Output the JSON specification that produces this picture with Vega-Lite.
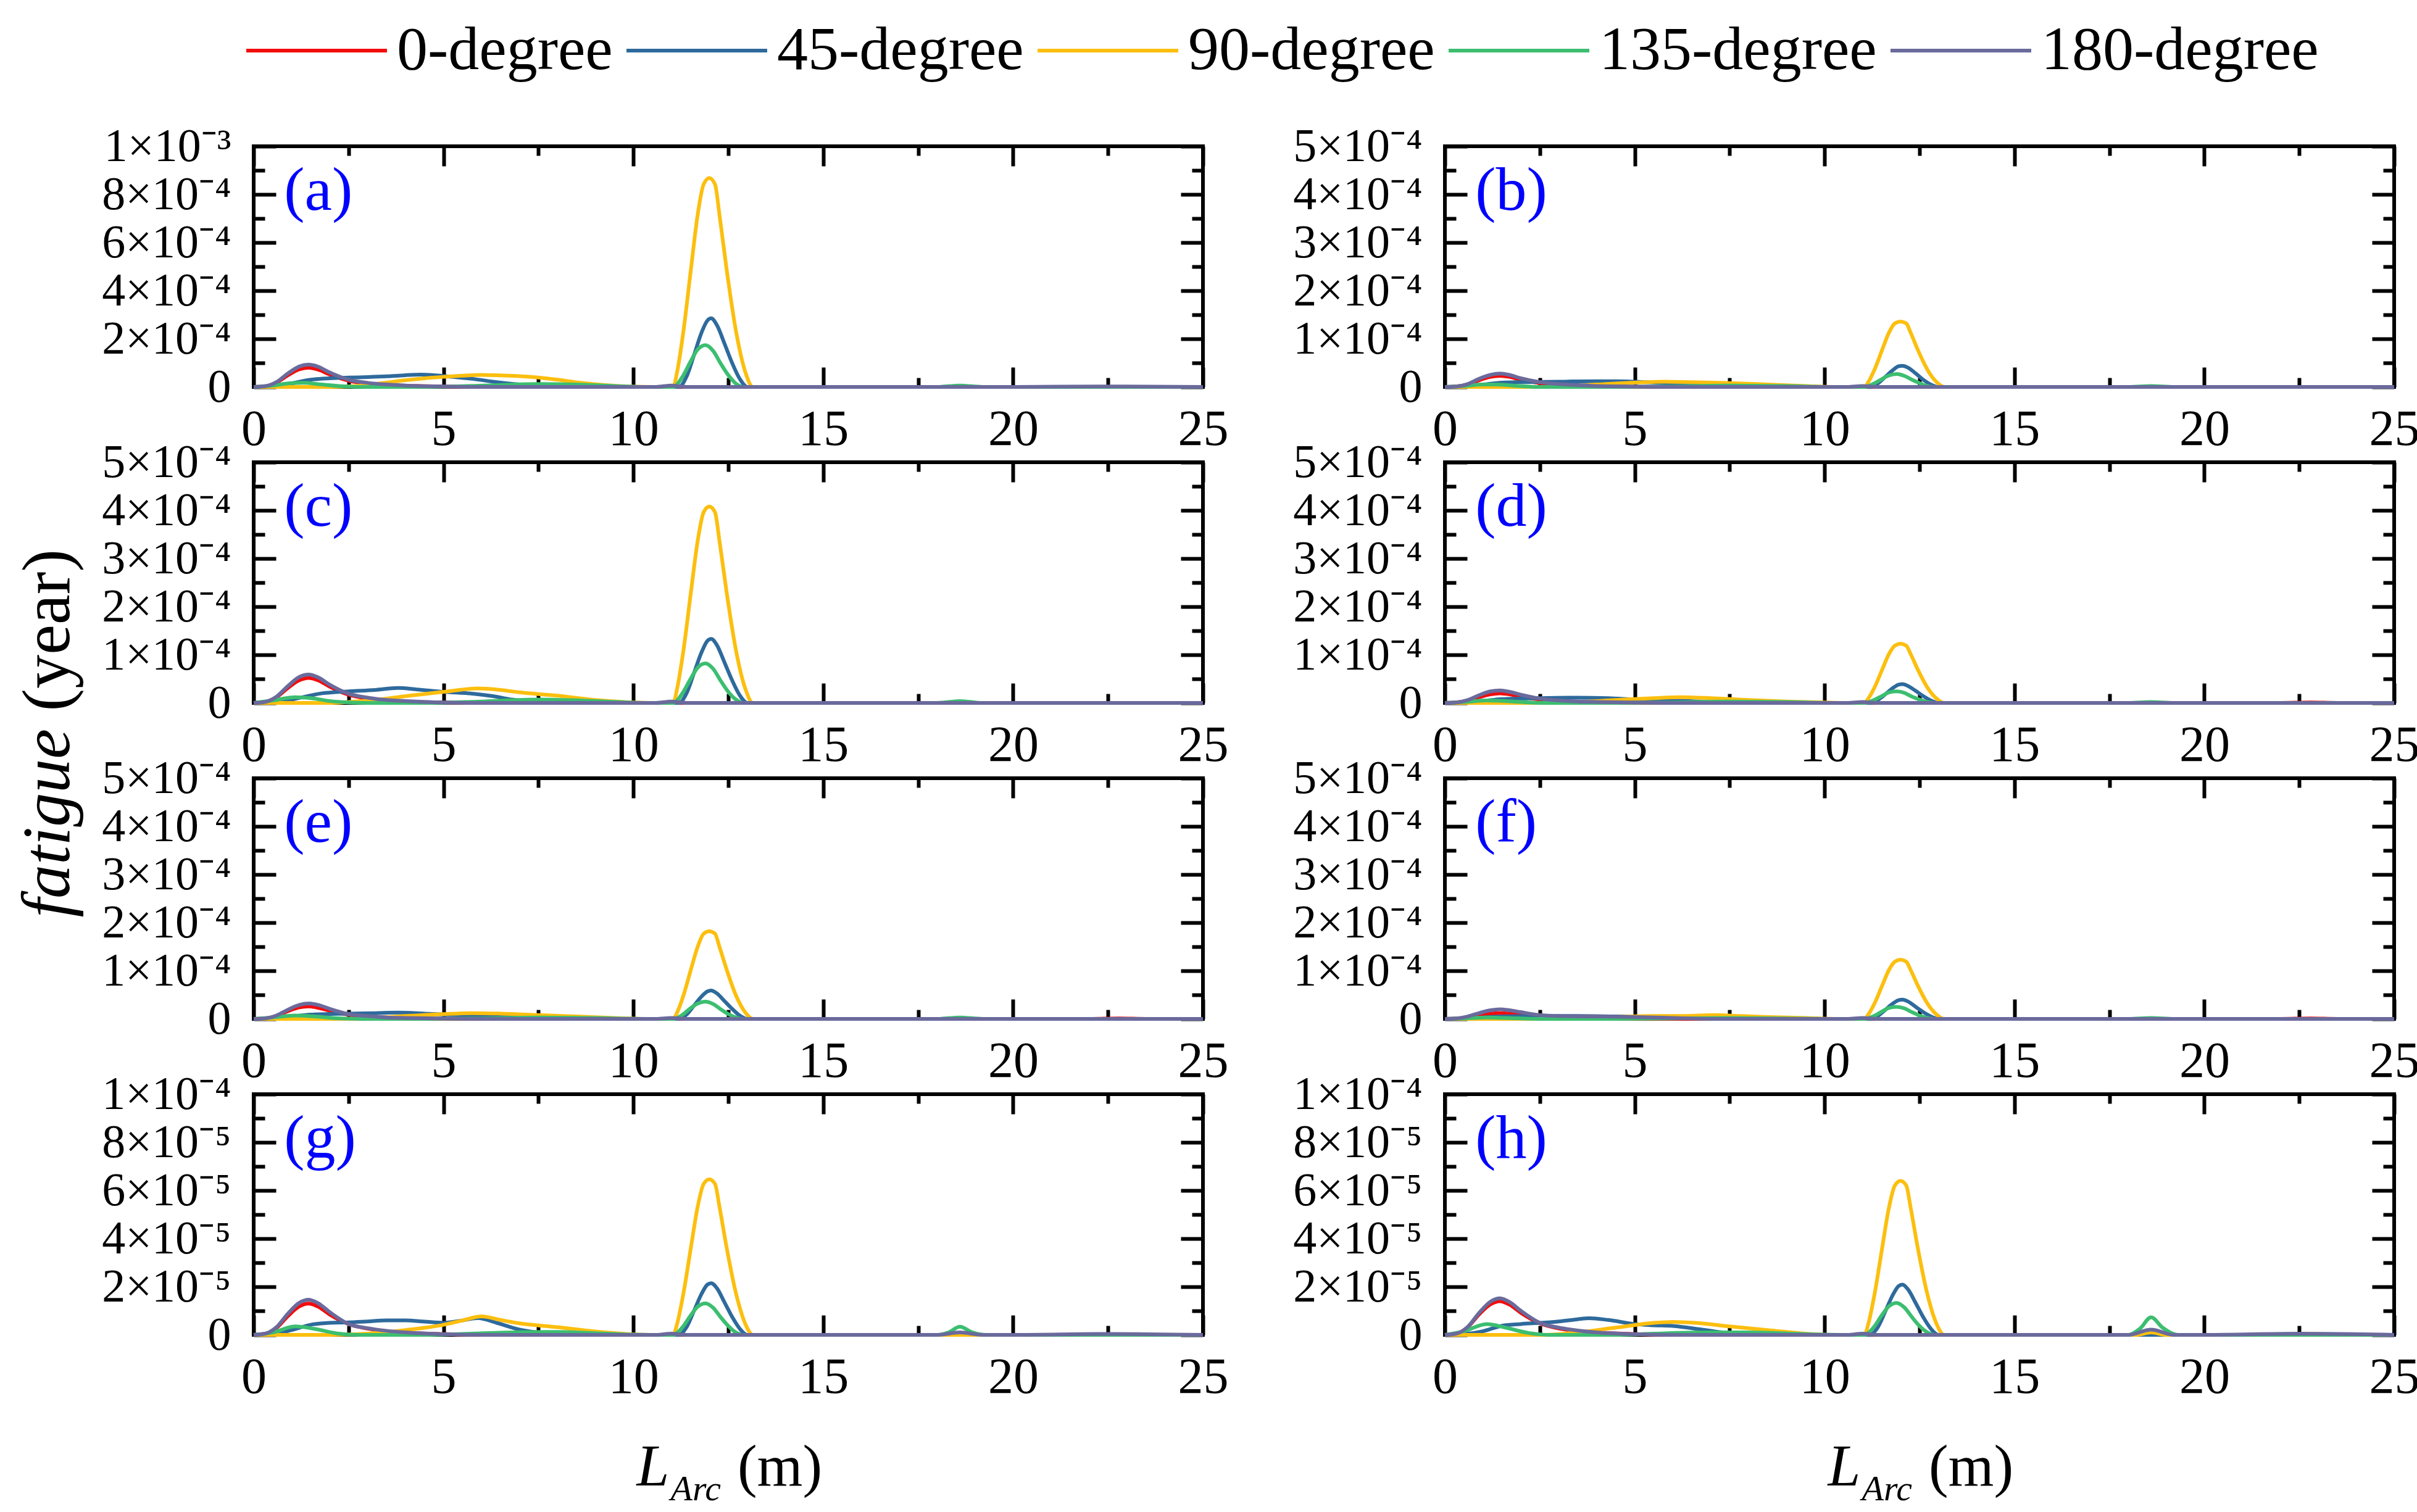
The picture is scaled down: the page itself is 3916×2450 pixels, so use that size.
{
  "$schema": "https://vega.github.io/schema/vega-lite/v6.json",
  "background": "white",
  "padding": {"left": 20, "top": 32, "right": 0, "bottom": 0},
  "config": {
    "font": "Liberation Serif",
    "view": {"stroke": "black", "strokeWidth": 6},
    "axis": {
      "labelFont": "Liberation Serif", "labelFontSize": 80, "labelColor": "black", "labelLimit": 0,
      "tickColor": "black", "tickWidth": 6, "domain": false, "grid": false,
      "labelFlush": false, "labelOverlap": false, "labelBound": false,
      "titleFont": "Liberation Serif", "titleFontWeight": "normal", "titleFontSize": 110, "titleColor": "black", "titleLimit": 0
    },
    "axisX": {"labelPadding": 60, "labelFontSize": 82},
    "axisY": {"labelPadding": 73, "labelFontSize": 76},
    "legend": {
      "labelFont": "Liberation Serif", "labelFontSize": 100, "labelColor": "black", "labelLimit": 0,
      "symbolType": "M-4,0H4", "symbolSize": 3249, "symbolStrokeWidth": 6,
      "labelOffset": 80, "columnPadding": 10
    }
  },
  "datasets": {
    "tags": [
      {"p": "a", "label": "(a)"}, {"p": "b", "label": "(b)"}, {"p": "c", "label": "(c)"}, {"p": "d", "label": "(d)"},
      {"p": "e", "label": "(e)"}, {"p": "f", "label": "(f)"}, {"p": "g", "label": "(g)"}, {"p": "h", "label": "(h)"}
    ],
    "a": [
      {"d":0,"x":0,"y":0},{"d":0,"x":0.3,"y":0.02e-4},{"d":0,"x":0.6,"y":0.18e-4},{"d":0,"x":0.9,"y":0.48e-4},{"d":0,"x":1.2,"y":0.73e-4},{"d":0,"x":1.45,"y":0.8e-4},{"d":0,"x":1.7,"y":0.72e-4},{"d":0,"x":2.0,"y":0.52e-4},{"d":0,"x":2.5,"y":0.26e-4},{"d":0,"x":3.0,"y":0.14e-4},{"d":0,"x":3.5,"y":0.08e-4},{"d":0,"x":4.0,"y":0.05e-4},{"d":0,"x":5.0,"y":0.02e-4},{"d":0,"x":6.0,"y":0},{"d":0,"x":25,"y":0},
      {"d":45,"x":0,"y":0},{"d":45,"x":0.5,"y":0.02e-4},{"d":45,"x":1.0,"y":0.15e-4},{"d":45,"x":1.5,"y":0.3e-4},{"d":45,"x":2.0,"y":0.36e-4},{"d":45,"x":2.5,"y":0.39e-4},{"d":45,"x":3.0,"y":0.41e-4},{"d":45,"x":3.5,"y":0.44e-4},{"d":45,"x":4.0,"y":0.49e-4},{"d":45,"x":4.4,"y":0.51e-4},{"d":45,"x":4.8,"y":0.48e-4},{"d":45,"x":5.3,"y":0.41e-4},{"d":45,"x":5.8,"y":0.33e-4},{"d":45,"x":6.3,"y":0.22e-4},{"d":45,"x":7.0,"y":0.1e-4},{"d":45,"x":7.5,"y":0.05e-4},{"d":45,"x":8.5,"y":0.01e-4},{"d":45,"x":9.5,"y":0},{"d":45,"x":11.2,"y":0},{"d":45,"x":11.4,"y":0.43e-4},{"d":45,"x":11.6,"y":1.34e-4},{"d":45,"x":11.8,"y":2.28e-4},{"d":45,"x":11.95,"y":2.76e-4},{"d":45,"x":12.05,"y":2.85e-4},{"d":45,"x":12.2,"y":2.57e-4},{"d":45,"x":12.4,"y":1.8e-4},{"d":45,"x":12.6,"y":1.0e-4},{"d":45,"x":12.8,"y":0.34e-4},{"d":45,"x":13.0,"y":0},{"d":45,"x":25,"y":0},
      {"d":90,"x":0,"y":0},{"d":90,"x":2.0,"y":0},{"d":90,"x":2.5,"y":0.02e-4},{"d":90,"x":3.0,"y":0.08e-4},{"d":90,"x":3.5,"y":0.18e-4},{"d":90,"x":4.0,"y":0.28e-4},{"d":90,"x":4.5,"y":0.36e-4},{"d":90,"x":5.0,"y":0.42e-4},{"d":90,"x":5.5,"y":0.47e-4},{"d":90,"x":6.0,"y":0.5e-4},{"d":90,"x":6.5,"y":0.48e-4},{"d":90,"x":7.0,"y":0.45e-4},{"d":90,"x":7.5,"y":0.39e-4},{"d":90,"x":8.0,"y":0.3e-4},{"d":90,"x":8.5,"y":0.19e-4},{"d":90,"x":9.0,"y":0.11e-4},{"d":90,"x":9.5,"y":0.05e-4},{"d":90,"x":10.0,"y":0.01e-4},{"d":90,"x":10.5,"y":0},{"d":90,"x":11.05,"y":0},{"d":90,"x":11.15,"y":0.61e-4},{"d":90,"x":11.32,"y":2.34e-4},{"d":90,"x":11.52,"y":4.95e-4},{"d":90,"x":11.69,"y":7.12e-4},{"d":90,"x":11.85,"y":8.42e-4},{"d":90,"x":12.0,"y":8.68e-4},{"d":90,"x":12.15,"y":8.42e-4},{"d":90,"x":12.27,"y":7.12e-4},{"d":90,"x":12.45,"y":4.95e-4},{"d":90,"x":12.7,"y":2.34e-4},{"d":90,"x":12.95,"y":0.61e-4},{"d":90,"x":13.15,"y":0},{"d":90,"x":25,"y":0},
      {"d":135,"x":0,"y":0},{"d":135,"x":0.5,"y":0.06e-4},{"d":135,"x":1.0,"y":0.16e-4},{"d":135,"x":1.3,"y":0.17e-4},{"d":135,"x":1.8,"y":0.1e-4},{"d":135,"x":2.3,"y":0.03e-4},{"d":135,"x":3.0,"y":0},{"d":135,"x":4.5,"y":0},{"d":135,"x":5.5,"y":0.03e-4},{"d":135,"x":6.5,"y":0.08e-4},{"d":135,"x":7.5,"y":0.12e-4},{"d":135,"x":8.5,"y":0.1e-4},{"d":135,"x":9.5,"y":0.04e-4},{"d":135,"x":10.3,"y":0},{"d":135,"x":11.05,"y":0},{"d":135,"x":11.3,"y":0.44e-4},{"d":135,"x":11.5,"y":1.04e-4},{"d":135,"x":11.7,"y":1.57e-4},{"d":135,"x":11.9,"y":1.74e-4},{"d":135,"x":12.1,"y":1.5e-4},{"d":135,"x":12.3,"y":0.97e-4},{"d":135,"x":12.5,"y":0.49e-4},{"d":135,"x":12.7,"y":0.14e-4},{"d":135,"x":12.9,"y":0},{"d":135,"x":18.0,"y":0},{"d":135,"x":18.6,"y":0.06e-4},{"d":135,"x":19.2,"y":0},{"d":135,"x":25,"y":0},
      {"d":180,"x":0,"y":0},{"d":180,"x":0.3,"y":0.03e-4},{"d":180,"x":0.6,"y":0.2e-4},{"d":180,"x":0.9,"y":0.56e-4},{"d":180,"x":1.2,"y":0.85e-4},{"d":180,"x":1.45,"y":0.93e-4},{"d":180,"x":1.7,"y":0.84e-4},{"d":180,"x":2.0,"y":0.6e-4},{"d":180,"x":2.5,"y":0.3e-4},{"d":180,"x":3.0,"y":0.17e-4},{"d":180,"x":3.5,"y":0.1e-4},{"d":180,"x":4.0,"y":0.06e-4},{"d":180,"x":5.0,"y":0.02e-4},{"d":180,"x":6.0,"y":0},{"d":180,"x":10.6,"y":0},{"d":180,"x":11.0,"y":0.06e-4},{"d":180,"x":11.4,"y":0},{"d":180,"x":20.0,"y":0},{"d":180,"x":22.5,"y":0.02e-4},{"d":180,"x":25,"y":0}
    ],
    "b": [
      {"d":0,"x":0,"y":0},{"d":0,"x":0.3,"y":0.01e-4},{"d":0,"x":0.6,"y":0.05e-4},{"d":0,"x":0.9,"y":0.14e-4},{"d":0,"x":1.2,"y":0.21e-4},{"d":0,"x":1.45,"y":0.23e-4},{"d":0,"x":1.7,"y":0.21e-4},{"d":0,"x":2.0,"y":0.15e-4},{"d":0,"x":2.5,"y":0.08e-4},{"d":0,"x":3.0,"y":0.04e-4},{"d":0,"x":4.0,"y":0.015e-4},{"d":0,"x":5.0,"y":0},{"d":0,"x":25,"y":0},
      {"d":45,"x":0,"y":0},{"d":45,"x":0.5,"y":0.01e-4},{"d":45,"x":1.0,"y":0.05e-4},{"d":45,"x":1.5,"y":0.09e-4},{"d":45,"x":2.0,"y":0.1e-4},{"d":45,"x":3.0,"y":0.11e-4},{"d":45,"x":4.0,"y":0.12e-4},{"d":45,"x":4.5,"y":0.12e-4},{"d":45,"x":5.3,"y":0.1e-4},{"d":45,"x":6.0,"y":0.07e-4},{"d":45,"x":7.0,"y":0.03e-4},{"d":45,"x":8.0,"y":0.01e-4},{"d":45,"x":9.0,"y":0},{"d":45,"x":11.2,"y":0},{"d":45,"x":11.4,"y":0.07e-4},{"d":45,"x":11.6,"y":0.21e-4},{"d":45,"x":11.8,"y":0.35e-4},{"d":45,"x":11.95,"y":0.43e-4},{"d":45,"x":12.05,"y":0.44e-4},{"d":45,"x":12.2,"y":0.4e-4},{"d":45,"x":12.4,"y":0.28e-4},{"d":45,"x":12.6,"y":0.15e-4},{"d":45,"x":12.8,"y":0.05e-4},{"d":45,"x":13.0,"y":0},{"d":45,"x":25,"y":0},
      {"d":90,"x":0,"y":0},{"d":90,"x":2.5,"y":0},{"d":90,"x":3.0,"y":0.01e-4},{"d":90,"x":4.0,"y":0.05e-4},{"d":90,"x":5.0,"y":0.09e-4},{"d":90,"x":5.8,"y":0.11e-4},{"d":90,"x":6.5,"y":0.1e-4},{"d":90,"x":7.5,"y":0.08e-4},{"d":90,"x":8.5,"y":0.05e-4},{"d":90,"x":9.5,"y":0.02e-4},{"d":90,"x":10.3,"y":0},{"d":90,"x":11.05,"y":0},{"d":90,"x":11.15,"y":0.1e-4},{"d":90,"x":11.32,"y":0.37e-4},{"d":90,"x":11.52,"y":0.78e-4},{"d":90,"x":11.69,"y":1.12e-4},{"d":90,"x":11.85,"y":1.32e-4},{"d":90,"x":12.0,"y":1.36e-4},{"d":90,"x":12.15,"y":1.32e-4},{"d":90,"x":12.27,"y":1.12e-4},{"d":90,"x":12.45,"y":0.78e-4},{"d":90,"x":12.7,"y":0.37e-4},{"d":90,"x":12.95,"y":0.1e-4},{"d":90,"x":13.15,"y":0},{"d":90,"x":25,"y":0},
      {"d":135,"x":0,"y":0},{"d":135,"x":0.5,"y":0.02e-4},{"d":135,"x":1.0,"y":0.05e-4},{"d":135,"x":1.3,"y":0.05e-4},{"d":135,"x":1.8,"y":0.03e-4},{"d":135,"x":2.5,"y":0},{"d":135,"x":4.5,"y":0},{"d":135,"x":6.0,"y":0.01e-4},{"d":135,"x":7.5,"y":0.03e-4},{"d":135,"x":9.0,"y":0.02e-4},{"d":135,"x":10.3,"y":0},{"d":135,"x":11.05,"y":0},{"d":135,"x":11.3,"y":0.07e-4},{"d":135,"x":11.5,"y":0.16e-4},{"d":135,"x":11.7,"y":0.24e-4},{"d":135,"x":11.9,"y":0.27e-4},{"d":135,"x":12.1,"y":0.23e-4},{"d":135,"x":12.3,"y":0.15e-4},{"d":135,"x":12.5,"y":0.08e-4},{"d":135,"x":12.7,"y":0.02e-4},{"d":135,"x":12.9,"y":0},{"d":135,"x":18.0,"y":0},{"d":135,"x":18.6,"y":0.02e-4},{"d":135,"x":19.2,"y":0},{"d":135,"x":25,"y":0},
      {"d":180,"x":0,"y":0},{"d":180,"x":0.3,"y":0.01e-4},{"d":180,"x":0.6,"y":0.06e-4},{"d":180,"x":0.9,"y":0.17e-4},{"d":180,"x":1.2,"y":0.25e-4},{"d":180,"x":1.45,"y":0.28e-4},{"d":180,"x":1.7,"y":0.25e-4},{"d":180,"x":2.0,"y":0.18e-4},{"d":180,"x":2.5,"y":0.1e-4},{"d":180,"x":3.0,"y":0.06e-4},{"d":180,"x":3.5,"y":0.04e-4},{"d":180,"x":4.0,"y":0.02e-4},{"d":180,"x":5.0,"y":0.01e-4},{"d":180,"x":6.0,"y":0},{"d":180,"x":10.6,"y":0},{"d":180,"x":11.0,"y":0.02e-4},{"d":180,"x":11.4,"y":0},{"d":180,"x":25,"y":0}
    ],
    "c": [
      {"d":0,"x":0,"y":0},{"d":0,"x":0.3,"y":0.02e-4},{"d":0,"x":0.6,"y":0.12e-4},{"d":0,"x":0.9,"y":0.31e-4},{"d":0,"x":1.2,"y":0.47e-4},{"d":0,"x":1.45,"y":0.52e-4},{"d":0,"x":1.7,"y":0.47e-4},{"d":0,"x":2.0,"y":0.34e-4},{"d":0,"x":2.5,"y":0.17e-4},{"d":0,"x":3.0,"y":0.09e-4},{"d":0,"x":3.5,"y":0.05e-4},{"d":0,"x":4.0,"y":0.03e-4},{"d":0,"x":5.0,"y":0.01e-4},{"d":0,"x":6.0,"y":0},{"d":0,"x":25,"y":0},
      {"d":45,"x":0,"y":0},{"d":45,"x":0.5,"y":0.01e-4},{"d":45,"x":1.0,"y":0.07e-4},{"d":45,"x":1.8,"y":0.2e-4},{"d":45,"x":2.5,"y":0.24e-4},{"d":45,"x":3.2,"y":0.27e-4},{"d":45,"x":3.8,"y":0.31e-4},{"d":45,"x":4.3,"y":0.28e-4},{"d":45,"x":5.0,"y":0.23e-4},{"d":45,"x":5.8,"y":0.19e-4},{"d":45,"x":6.3,"y":0.14e-4},{"d":45,"x":6.8,"y":0.07e-4},{"d":45,"x":7.5,"y":0.02e-4},{"d":45,"x":8.5,"y":0},{"d":45,"x":11.2,"y":0},{"d":45,"x":11.4,"y":0.2e-4},{"d":45,"x":11.6,"y":0.63e-4},{"d":45,"x":11.8,"y":1.06e-4},{"d":45,"x":11.95,"y":1.29e-4},{"d":45,"x":12.05,"y":1.33e-4},{"d":45,"x":12.2,"y":1.2e-4},{"d":45,"x":12.4,"y":0.84e-4},{"d":45,"x":12.6,"y":0.47e-4},{"d":45,"x":12.8,"y":0.16e-4},{"d":45,"x":13.0,"y":0},{"d":45,"x":25,"y":0},
      {"d":90,"x":0,"y":0},{"d":90,"x":2.0,"y":0},{"d":90,"x":2.5,"y":0.02e-4},{"d":90,"x":3.2,"y":0.06e-4},{"d":90,"x":4.0,"y":0.14e-4},{"d":90,"x":5.0,"y":0.23e-4},{"d":90,"x":5.9,"y":0.3e-4},{"d":90,"x":6.5,"y":0.27e-4},{"d":90,"x":7.0,"y":0.22e-4},{"d":90,"x":8.0,"y":0.15e-4},{"d":90,"x":9.0,"y":0.06e-4},{"d":90,"x":10.0,"y":0.01e-4},{"d":90,"x":10.5,"y":0},{"d":90,"x":11.05,"y":0},{"d":90,"x":11.15,"y":0.29e-4},{"d":90,"x":11.32,"y":1.1e-4},{"d":90,"x":11.52,"y":2.33e-4},{"d":90,"x":11.69,"y":3.35e-4},{"d":90,"x":11.85,"y":3.96e-4},{"d":90,"x":12.0,"y":4.08e-4},{"d":90,"x":12.15,"y":3.96e-4},{"d":90,"x":12.27,"y":3.35e-4},{"d":90,"x":12.45,"y":2.33e-4},{"d":90,"x":12.7,"y":1.1e-4},{"d":90,"x":12.95,"y":0.29e-4},{"d":90,"x":13.15,"y":0},{"d":90,"x":25,"y":0},
      {"d":135,"x":0,"y":0},{"d":135,"x":0.5,"y":0.05e-4},{"d":135,"x":1.1,"y":0.12e-4},{"d":135,"x":1.5,"y":0.1e-4},{"d":135,"x":2.0,"y":0.04e-4},{"d":135,"x":2.5,"y":0.01e-4},{"d":135,"x":3.0,"y":0},{"d":135,"x":4.5,"y":0},{"d":135,"x":6.0,"y":0.03e-4},{"d":135,"x":7.5,"y":0.07e-4},{"d":135,"x":9.0,"y":0.04e-4},{"d":135,"x":10.3,"y":0},{"d":135,"x":11.05,"y":0},{"d":135,"x":11.3,"y":0.21e-4},{"d":135,"x":11.5,"y":0.49e-4},{"d":135,"x":11.7,"y":0.74e-4},{"d":135,"x":11.9,"y":0.82e-4},{"d":135,"x":12.1,"y":0.71e-4},{"d":135,"x":12.3,"y":0.46e-4},{"d":135,"x":12.5,"y":0.23e-4},{"d":135,"x":12.7,"y":0.07e-4},{"d":135,"x":12.9,"y":0},{"d":135,"x":18.0,"y":0},{"d":135,"x":18.6,"y":0.04e-4},{"d":135,"x":19.2,"y":0},{"d":135,"x":25,"y":0},
      {"d":180,"x":0,"y":0},{"d":180,"x":0.3,"y":0.02e-4},{"d":180,"x":0.6,"y":0.13e-4},{"d":180,"x":0.9,"y":0.35e-4},{"d":180,"x":1.2,"y":0.54e-4},{"d":180,"x":1.45,"y":0.59e-4},{"d":180,"x":1.7,"y":0.53e-4},{"d":180,"x":2.0,"y":0.38e-4},{"d":180,"x":2.5,"y":0.19e-4},{"d":180,"x":3.0,"y":0.11e-4},{"d":180,"x":3.5,"y":0.06e-4},{"d":180,"x":4.0,"y":0.04e-4},{"d":180,"x":5.0,"y":0.01e-4},{"d":180,"x":6.0,"y":0},{"d":180,"x":10.6,"y":0},{"d":180,"x":11.0,"y":0.03e-4},{"d":180,"x":11.4,"y":0},{"d":180,"x":25,"y":0}
    ],
    "d": [
      {"d":0,"x":0,"y":0},{"d":0,"x":0.3,"y":0.01e-4},{"d":0,"x":0.6,"y":0.05e-4},{"d":0,"x":0.9,"y":0.12e-4},{"d":0,"x":1.2,"y":0.18e-4},{"d":0,"x":1.45,"y":0.2e-4},{"d":0,"x":1.7,"y":0.18e-4},{"d":0,"x":2.0,"y":0.13e-4},{"d":0,"x":2.5,"y":0.07e-4},{"d":0,"x":3.0,"y":0.04e-4},{"d":0,"x":4.0,"y":0.01e-4},{"d":0,"x":5.0,"y":0},{"d":0,"x":22.0,"y":0},{"d":0,"x":22.8,"y":0.01e-4},{"d":0,"x":23.5,"y":0},{"d":0,"x":25,"y":0},
      {"d":45,"x":0,"y":0},{"d":45,"x":0.5,"y":0.01e-4},{"d":45,"x":1.0,"y":0.04e-4},{"d":45,"x":1.5,"y":0.08e-4},{"d":45,"x":2.5,"y":0.1e-4},{"d":45,"x":3.5,"y":0.11e-4},{"d":45,"x":4.3,"y":0.1e-4},{"d":45,"x":5.0,"y":0.07e-4},{"d":45,"x":6.0,"y":0.05e-4},{"d":45,"x":7.0,"y":0.02e-4},{"d":45,"x":8.0,"y":0},{"d":45,"x":11.2,"y":0},{"d":45,"x":11.4,"y":0.06e-4},{"d":45,"x":11.6,"y":0.18e-4},{"d":45,"x":11.8,"y":0.31e-4},{"d":45,"x":11.95,"y":0.38e-4},{"d":45,"x":12.05,"y":0.39e-4},{"d":45,"x":12.2,"y":0.35e-4},{"d":45,"x":12.4,"y":0.25e-4},{"d":45,"x":12.6,"y":0.14e-4},{"d":45,"x":12.8,"y":0.05e-4},{"d":45,"x":13.0,"y":0},{"d":45,"x":25,"y":0},
      {"d":90,"x":0,"y":0},{"d":90,"x":2.5,"y":0},{"d":90,"x":3.5,"y":0.02e-4},{"d":90,"x":4.5,"y":0.06e-4},{"d":90,"x":5.5,"y":0.1e-4},{"d":90,"x":6.2,"y":0.12e-4},{"d":90,"x":7.0,"y":0.1e-4},{"d":90,"x":8.0,"y":0.06e-4},{"d":90,"x":9.0,"y":0.03e-4},{"d":90,"x":10.0,"y":0.01e-4},{"d":90,"x":10.5,"y":0},{"d":90,"x":11.05,"y":0},{"d":90,"x":11.15,"y":0.09e-4},{"d":90,"x":11.32,"y":0.33e-4},{"d":90,"x":11.52,"y":0.7e-4},{"d":90,"x":11.69,"y":1.01e-4},{"d":90,"x":11.85,"y":1.19e-4},{"d":90,"x":12.0,"y":1.23e-4},{"d":90,"x":12.15,"y":1.19e-4},{"d":90,"x":12.27,"y":1.01e-4},{"d":90,"x":12.45,"y":0.7e-4},{"d":90,"x":12.7,"y":0.33e-4},{"d":90,"x":12.95,"y":0.09e-4},{"d":90,"x":13.15,"y":0},{"d":90,"x":25,"y":0},
      {"d":135,"x":0,"y":0},{"d":135,"x":0.5,"y":0.02e-4},{"d":135,"x":1.1,"y":0.05e-4},{"d":135,"x":1.6,"y":0.04e-4},{"d":135,"x":2.5,"y":0},{"d":135,"x":4.5,"y":0},{"d":135,"x":6.0,"y":0.01e-4},{"d":135,"x":7.5,"y":0.03e-4},{"d":135,"x":9.0,"y":0.02e-4},{"d":135,"x":10.3,"y":0},{"d":135,"x":11.05,"y":0},{"d":135,"x":11.3,"y":0.06e-4},{"d":135,"x":11.5,"y":0.14e-4},{"d":135,"x":11.7,"y":0.22e-4},{"d":135,"x":11.9,"y":0.24e-4},{"d":135,"x":12.1,"y":0.21e-4},{"d":135,"x":12.3,"y":0.13e-4},{"d":135,"x":12.5,"y":0.07e-4},{"d":135,"x":12.7,"y":0.02e-4},{"d":135,"x":12.9,"y":0},{"d":135,"x":18.0,"y":0},{"d":135,"x":18.6,"y":0.02e-4},{"d":135,"x":19.2,"y":0},{"d":135,"x":25,"y":0},
      {"d":180,"x":0,"y":0},{"d":180,"x":0.3,"y":0.01e-4},{"d":180,"x":0.6,"y":0.06e-4},{"d":180,"x":0.9,"y":0.16e-4},{"d":180,"x":1.2,"y":0.24e-4},{"d":180,"x":1.45,"y":0.26e-4},{"d":180,"x":1.7,"y":0.23e-4},{"d":180,"x":2.0,"y":0.17e-4},{"d":180,"x":2.5,"y":0.09e-4},{"d":180,"x":3.0,"y":0.05e-4},{"d":180,"x":3.5,"y":0.03e-4},{"d":180,"x":4.0,"y":0.02e-4},{"d":180,"x":5.0,"y":0.01e-4},{"d":180,"x":6.0,"y":0},{"d":180,"x":10.6,"y":0},{"d":180,"x":11.0,"y":0.02e-4},{"d":180,"x":11.4,"y":0},{"d":180,"x":25,"y":0}
    ],
    "e": [
      {"d":0,"x":0,"y":0},{"d":0,"x":0.3,"y":0.01e-4},{"d":0,"x":0.6,"y":0.06e-4},{"d":0,"x":0.9,"y":0.16e-4},{"d":0,"x":1.2,"y":0.24e-4},{"d":0,"x":1.45,"y":0.26e-4},{"d":0,"x":1.7,"y":0.23e-4},{"d":0,"x":2.0,"y":0.17e-4},{"d":0,"x":2.5,"y":0.09e-4},{"d":0,"x":3.0,"y":0.05e-4},{"d":0,"x":4.0,"y":0.02e-4},{"d":0,"x":5.0,"y":0},{"d":0,"x":22.0,"y":0},{"d":0,"x":22.8,"y":0.01e-4},{"d":0,"x":23.5,"y":0},{"d":0,"x":25,"y":0},
      {"d":45,"x":0,"y":0},{"d":45,"x":0.5,"y":0.01e-4},{"d":45,"x":1.0,"y":0.05e-4},{"d":45,"x":1.5,"y":0.09e-4},{"d":45,"x":2.5,"y":0.11e-4},{"d":45,"x":3.2,"y":0.12e-4},{"d":45,"x":3.8,"y":0.13e-4},{"d":45,"x":4.5,"y":0.11e-4},{"d":45,"x":5.3,"y":0.08e-4},{"d":45,"x":6.0,"y":0.06e-4},{"d":45,"x":7.0,"y":0.03e-4},{"d":45,"x":8.0,"y":0.01e-4},{"d":45,"x":9.0,"y":0},{"d":45,"x":11.2,"y":0},{"d":45,"x":11.4,"y":0.09e-4},{"d":45,"x":11.6,"y":0.28e-4},{"d":45,"x":11.8,"y":0.47e-4},{"d":45,"x":11.95,"y":0.57e-4},{"d":45,"x":12.05,"y":0.59e-4},{"d":45,"x":12.2,"y":0.53e-4},{"d":45,"x":12.4,"y":0.37e-4},{"d":45,"x":12.6,"y":0.21e-4},{"d":45,"x":12.8,"y":0.07e-4},{"d":45,"x":13.0,"y":0},{"d":45,"x":25,"y":0},
      {"d":90,"x":0,"y":0},{"d":90,"x":2.5,"y":0},{"d":90,"x":3.2,"y":0.02e-4},{"d":90,"x":4.0,"y":0.06e-4},{"d":90,"x":5.0,"y":0.1e-4},{"d":90,"x":5.8,"y":0.12e-4},{"d":90,"x":6.5,"y":0.11e-4},{"d":90,"x":7.5,"y":0.08e-4},{"d":90,"x":8.5,"y":0.05e-4},{"d":90,"x":9.5,"y":0.02e-4},{"d":90,"x":10.3,"y":0},{"d":90,"x":11.05,"y":0},{"d":90,"x":11.15,"y":0.13e-4},{"d":90,"x":11.32,"y":0.49e-4},{"d":90,"x":11.52,"y":1.04e-4},{"d":90,"x":11.69,"y":1.49e-4},{"d":90,"x":11.85,"y":1.77e-4},{"d":90,"x":12.0,"y":1.82e-4},{"d":90,"x":12.15,"y":1.77e-4},{"d":90,"x":12.27,"y":1.49e-4},{"d":90,"x":12.45,"y":1.04e-4},{"d":90,"x":12.7,"y":0.49e-4},{"d":90,"x":12.95,"y":0.13e-4},{"d":90,"x":13.15,"y":0},{"d":90,"x":25,"y":0},
      {"d":135,"x":0,"y":0},{"d":135,"x":0.5,"y":0.03e-4},{"d":135,"x":1.1,"y":0.07e-4},{"d":135,"x":1.6,"y":0.05e-4},{"d":135,"x":2.3,"y":0.01e-4},{"d":135,"x":3.0,"y":0},{"d":135,"x":4.5,"y":0},{"d":135,"x":6.0,"y":0.01e-4},{"d":135,"x":7.5,"y":0.03e-4},{"d":135,"x":9.0,"y":0.02e-4},{"d":135,"x":10.3,"y":0},{"d":135,"x":11.05,"y":0},{"d":135,"x":11.3,"y":0.09e-4},{"d":135,"x":11.5,"y":0.22e-4},{"d":135,"x":11.7,"y":0.32e-4},{"d":135,"x":11.9,"y":0.36e-4},{"d":135,"x":12.1,"y":0.31e-4},{"d":135,"x":12.3,"y":0.2e-4},{"d":135,"x":12.5,"y":0.1e-4},{"d":135,"x":12.7,"y":0.03e-4},{"d":135,"x":12.9,"y":0},{"d":135,"x":18.0,"y":0},{"d":135,"x":18.6,"y":0.03e-4},{"d":135,"x":19.2,"y":0},{"d":135,"x":25,"y":0},
      {"d":180,"x":0,"y":0},{"d":180,"x":0.3,"y":0.01e-4},{"d":180,"x":0.6,"y":0.07e-4},{"d":180,"x":0.9,"y":0.19e-4},{"d":180,"x":1.2,"y":0.29e-4},{"d":180,"x":1.45,"y":0.32e-4},{"d":180,"x":1.7,"y":0.29e-4},{"d":180,"x":2.0,"y":0.21e-4},{"d":180,"x":2.5,"y":0.1e-4},{"d":180,"x":3.0,"y":0.06e-4},{"d":180,"x":3.5,"y":0.03e-4},{"d":180,"x":4.0,"y":0.02e-4},{"d":180,"x":5.0,"y":0.01e-4},{"d":180,"x":6.0,"y":0},{"d":180,"x":10.6,"y":0},{"d":180,"x":11.0,"y":0.02e-4},{"d":180,"x":11.4,"y":0},{"d":180,"x":25,"y":0}
    ],
    "f": [
      {"d":0,"x":0,"y":0},{"d":0,"x":0.3,"y":0.005e-4},{"d":0,"x":0.6,"y":0.03e-4},{"d":0,"x":0.9,"y":0.07e-4},{"d":0,"x":1.2,"y":0.11e-4},{"d":0,"x":1.45,"y":0.12e-4},{"d":0,"x":1.7,"y":0.11e-4},{"d":0,"x":2.0,"y":0.08e-4},{"d":0,"x":2.5,"y":0.04e-4},{"d":0,"x":3.0,"y":0.02e-4},{"d":0,"x":4.0,"y":0.01e-4},{"d":0,"x":5.0,"y":0},{"d":0,"x":22.0,"y":0},{"d":0,"x":22.8,"y":0.01e-4},{"d":0,"x":23.5,"y":0},{"d":0,"x":25,"y":0},
      {"d":45,"x":0,"y":0},{"d":45,"x":0.5,"y":0.01e-4},{"d":45,"x":1.0,"y":0.03e-4},{"d":45,"x":1.5,"y":0.05e-4},{"d":45,"x":2.5,"y":0.06e-4},{"d":45,"x":3.5,"y":0.06e-4},{"d":45,"x":4.5,"y":0.05e-4},{"d":45,"x":5.5,"y":0.04e-4},{"d":45,"x":6.5,"y":0.02e-4},{"d":45,"x":7.5,"y":0.01e-4},{"d":45,"x":8.5,"y":0},{"d":45,"x":11.2,"y":0},{"d":45,"x":11.4,"y":0.06e-4},{"d":45,"x":11.6,"y":0.19e-4},{"d":45,"x":11.8,"y":0.32e-4},{"d":45,"x":11.95,"y":0.39e-4},{"d":45,"x":12.05,"y":0.4e-4},{"d":45,"x":12.2,"y":0.36e-4},{"d":45,"x":12.4,"y":0.25e-4},{"d":45,"x":12.6,"y":0.14e-4},{"d":45,"x":12.8,"y":0.05e-4},{"d":45,"x":13.0,"y":0},{"d":45,"x":25,"y":0},
      {"d":90,"x":0,"y":0},{"d":90,"x":2.5,"y":0},{"d":90,"x":3.5,"y":0.02e-4},{"d":90,"x":4.5,"y":0.04e-4},{"d":90,"x":5.5,"y":0.06e-4},{"d":90,"x":6.3,"y":0.06e-4},{"d":90,"x":7.1,"y":0.08e-4},{"d":90,"x":7.8,"y":0.06e-4},{"d":90,"x":8.5,"y":0.04e-4},{"d":90,"x":9.5,"y":0.02e-4},{"d":90,"x":10.3,"y":0},{"d":90,"x":11.05,"y":0},{"d":90,"x":11.15,"y":0.09e-4},{"d":90,"x":11.32,"y":0.33e-4},{"d":90,"x":11.52,"y":0.7e-4},{"d":90,"x":11.69,"y":1.01e-4},{"d":90,"x":11.85,"y":1.19e-4},{"d":90,"x":12.0,"y":1.23e-4},{"d":90,"x":12.15,"y":1.19e-4},{"d":90,"x":12.27,"y":1.01e-4},{"d":90,"x":12.45,"y":0.7e-4},{"d":90,"x":12.7,"y":0.33e-4},{"d":90,"x":12.95,"y":0.09e-4},{"d":90,"x":13.15,"y":0},{"d":90,"x":25,"y":0},
      {"d":135,"x":0,"y":0},{"d":135,"x":0.5,"y":0.01e-4},{"d":135,"x":1.1,"y":0.03e-4},{"d":135,"x":1.6,"y":0.02e-4},{"d":135,"x":2.5,"y":0},{"d":135,"x":4.5,"y":0},{"d":135,"x":6.0,"y":0.01e-4},{"d":135,"x":7.5,"y":0.02e-4},{"d":135,"x":9.0,"y":0.01e-4},{"d":135,"x":10.3,"y":0},{"d":135,"x":11.05,"y":0},{"d":135,"x":11.3,"y":0.06e-4},{"d":135,"x":11.5,"y":0.15e-4},{"d":135,"x":11.7,"y":0.23e-4},{"d":135,"x":11.9,"y":0.25e-4},{"d":135,"x":12.1,"y":0.22e-4},{"d":135,"x":12.3,"y":0.14e-4},{"d":135,"x":12.5,"y":0.07e-4},{"d":135,"x":12.7,"y":0.02e-4},{"d":135,"x":12.9,"y":0},{"d":135,"x":18.0,"y":0},{"d":135,"x":18.6,"y":0.02e-4},{"d":135,"x":19.2,"y":0},{"d":135,"x":25,"y":0},
      {"d":180,"x":0,"y":0},{"d":180,"x":0.3,"y":0.01e-4},{"d":180,"x":0.6,"y":0.05e-4},{"d":180,"x":0.9,"y":0.12e-4},{"d":180,"x":1.2,"y":0.18e-4},{"d":180,"x":1.45,"y":0.2e-4},{"d":180,"x":1.7,"y":0.18e-4},{"d":180,"x":2.0,"y":0.14e-4},{"d":180,"x":2.5,"y":0.08e-4},{"d":180,"x":3.0,"y":0.06e-4},{"d":180,"x":4.0,"y":0.05e-4},{"d":180,"x":5.0,"y":0.04e-4},{"d":180,"x":6.0,"y":0.02e-4},{"d":180,"x":7.0,"y":0},{"d":180,"x":10.6,"y":0},{"d":180,"x":11.0,"y":0.02e-4},{"d":180,"x":11.4,"y":0},{"d":180,"x":25,"y":0}
    ],
    "g": [
      {"d":0,"x":0,"y":0},{"d":0,"x":0.3,"y":0.04e-5},{"d":0,"x":0.6,"y":0.29e-5},{"d":0,"x":0.9,"y":0.78e-5},{"d":0,"x":1.2,"y":1.18e-5},{"d":0,"x":1.45,"y":1.3e-5},{"d":0,"x":1.7,"y":1.17e-5},{"d":0,"x":2.0,"y":0.85e-5},{"d":0,"x":2.5,"y":0.45e-5},{"d":0,"x":3.0,"y":0.26e-5},{"d":0,"x":3.5,"y":0.15e-5},{"d":0,"x":4.0,"y":0.09e-5},{"d":0,"x":5.0,"y":0.03e-5},{"d":0,"x":6.0,"y":0},{"d":0,"x":25,"y":0},
      {"d":45,"x":0,"y":0},{"d":45,"x":0.5,"y":0.03e-5},{"d":45,"x":1.0,"y":0.2e-5},{"d":45,"x":1.5,"y":0.42e-5},{"d":45,"x":2.0,"y":0.5e-5},{"d":45,"x":2.5,"y":0.52e-5},{"d":45,"x":3.0,"y":0.56e-5},{"d":45,"x":3.5,"y":0.6e-5},{"d":45,"x":4.0,"y":0.6e-5},{"d":45,"x":4.5,"y":0.55e-5},{"d":45,"x":5.0,"y":0.5e-5},{"d":45,"x":5.5,"y":0.6e-5},{"d":45,"x":5.9,"y":0.7e-5},{"d":45,"x":6.4,"y":0.5e-5},{"d":45,"x":7.0,"y":0.22e-5},{"d":45,"x":7.5,"y":0.1e-5},{"d":45,"x":8.5,"y":0.02e-5},{"d":45,"x":9.5,"y":0},{"d":45,"x":11.2,"y":0},{"d":45,"x":11.4,"y":0.32e-5},{"d":45,"x":11.6,"y":1.01e-5},{"d":45,"x":11.8,"y":1.72e-5},{"d":45,"x":11.95,"y":2.09e-5},{"d":45,"x":12.05,"y":2.15e-5},{"d":45,"x":12.2,"y":1.94e-5},{"d":45,"x":12.4,"y":1.35e-5},{"d":45,"x":12.6,"y":0.75e-5},{"d":45,"x":12.8,"y":0.26e-5},{"d":45,"x":13.0,"y":0},{"d":45,"x":25,"y":0},
      {"d":90,"x":0,"y":0},{"d":90,"x":2.0,"y":0},{"d":90,"x":3.0,"y":0.05e-5},{"d":90,"x":4.0,"y":0.2e-5},{"d":90,"x":5.0,"y":0.42e-5},{"d":90,"x":5.5,"y":0.6e-5},{"d":90,"x":6.0,"y":0.77e-5},{"d":90,"x":6.5,"y":0.62e-5},{"d":90,"x":7.0,"y":0.48e-5},{"d":90,"x":8.0,"y":0.32e-5},{"d":90,"x":9.0,"y":0.14e-5},{"d":90,"x":10.0,"y":0.02e-5},{"d":90,"x":10.5,"y":0},{"d":90,"x":11.05,"y":0},{"d":90,"x":11.15,"y":0.45e-5},{"d":90,"x":11.32,"y":1.74e-5},{"d":90,"x":11.52,"y":3.68e-5},{"d":90,"x":11.69,"y":5.3e-5},{"d":90,"x":11.85,"y":6.27e-5},{"d":90,"x":12.0,"y":6.46e-5},{"d":90,"x":12.15,"y":6.27e-5},{"d":90,"x":12.27,"y":5.3e-5},{"d":90,"x":12.45,"y":3.68e-5},{"d":90,"x":12.7,"y":1.74e-5},{"d":90,"x":12.95,"y":0.45e-5},{"d":90,"x":13.15,"y":0},{"d":90,"x":25,"y":0},
      {"d":135,"x":0,"y":0},{"d":135,"x":0.5,"y":0.1e-5},{"d":135,"x":1.1,"y":0.35e-5},{"d":135,"x":1.6,"y":0.25e-5},{"d":135,"x":2.2,"y":0.06e-5},{"d":135,"x":2.8,"y":0},{"d":135,"x":4.5,"y":0},{"d":135,"x":5.5,"y":0.04e-5},{"d":135,"x":7.0,"y":0.11e-5},{"d":135,"x":8.0,"y":0.12e-5},{"d":135,"x":9.0,"y":0.07e-5},{"d":135,"x":10.0,"y":0.01e-5},{"d":135,"x":10.5,"y":0},{"d":135,"x":11.05,"y":0},{"d":135,"x":11.3,"y":0.33e-5},{"d":135,"x":11.5,"y":0.79e-5},{"d":135,"x":11.7,"y":1.18e-5},{"d":135,"x":11.9,"y":1.31e-5},{"d":135,"x":12.1,"y":1.13e-5},{"d":135,"x":12.3,"y":0.73e-5},{"d":135,"x":12.5,"y":0.37e-5},{"d":135,"x":12.7,"y":0.1e-5},{"d":135,"x":12.9,"y":0},{"d":135,"x":18.0,"y":0},{"d":135,"x":18.3,"y":0.1e-5},{"d":135,"x":18.6,"y":0.34e-5},{"d":135,"x":18.9,"y":0.12e-5},{"d":135,"x":19.3,"y":0},{"d":135,"x":25,"y":0},
      {"d":180,"x":0,"y":0},{"d":180,"x":0.3,"y":0.05e-5},{"d":180,"x":0.6,"y":0.32e-5},{"d":180,"x":0.9,"y":0.88e-5},{"d":180,"x":1.2,"y":1.33e-5},{"d":180,"x":1.45,"y":1.46e-5},{"d":180,"x":1.7,"y":1.31e-5},{"d":180,"x":2.0,"y":0.95e-5},{"d":180,"x":2.5,"y":0.45e-5},{"d":180,"x":3.0,"y":0.28e-5},{"d":180,"x":3.5,"y":0.17e-5},{"d":180,"x":4.0,"y":0.1e-5},{"d":180,"x":5.0,"y":0.03e-5},{"d":180,"x":6.0,"y":0},{"d":180,"x":10.6,"y":0},{"d":180,"x":11.0,"y":0.05e-5},{"d":180,"x":11.4,"y":0},{"d":180,"x":18.0,"y":0},{"d":180,"x":18.6,"y":0.1e-5},{"d":180,"x":19.2,"y":0},{"d":180,"x":20.0,"y":0},{"d":180,"x":22.5,"y":0.04e-5},{"d":180,"x":25,"y":0}
    ],
    "h": [
      {"d":0,"x":0,"y":0},{"d":0,"x":0.3,"y":0.04e-5},{"d":0,"x":0.6,"y":0.32e-5},{"d":0,"x":0.9,"y":0.85e-5},{"d":0,"x":1.2,"y":1.27e-5},{"d":0,"x":1.45,"y":1.4e-5},{"d":0,"x":1.7,"y":1.26e-5},{"d":0,"x":2.0,"y":0.92e-5},{"d":0,"x":2.5,"y":0.48e-5},{"d":0,"x":3.0,"y":0.27e-5},{"d":0,"x":3.5,"y":0.16e-5},{"d":0,"x":4.0,"y":0.1e-5},{"d":0,"x":5.0,"y":0.03e-5},{"d":0,"x":6.0,"y":0},{"d":0,"x":18.0,"y":0},{"d":0,"x":18.6,"y":0.08e-5},{"d":0,"x":19.2,"y":0},{"d":0,"x":25,"y":0},
      {"d":45,"x":0,"y":0},{"d":45,"x":0.5,"y":0.03e-5},{"d":45,"x":1.0,"y":0.15e-5},{"d":45,"x":1.5,"y":0.38e-5},{"d":45,"x":2.0,"y":0.45e-5},{"d":45,"x":2.5,"y":0.5e-5},{"d":45,"x":3.0,"y":0.56e-5},{"d":45,"x":3.5,"y":0.65e-5},{"d":45,"x":3.8,"y":0.69e-5},{"d":45,"x":4.3,"y":0.62e-5},{"d":45,"x":5.0,"y":0.45e-5},{"d":45,"x":5.5,"y":0.4e-5},{"d":45,"x":6.0,"y":0.37e-5},{"d":45,"x":6.8,"y":0.21e-5},{"d":45,"x":7.5,"y":0.07e-5},{"d":45,"x":8.5,"y":0.01e-5},{"d":45,"x":9.5,"y":0},{"d":45,"x":11.2,"y":0},{"d":45,"x":11.4,"y":0.31e-5},{"d":45,"x":11.6,"y":0.98e-5},{"d":45,"x":11.8,"y":1.67e-5},{"d":45,"x":11.95,"y":2.03e-5},{"d":45,"x":12.05,"y":2.09e-5},{"d":45,"x":12.2,"y":1.88e-5},{"d":45,"x":12.4,"y":1.32e-5},{"d":45,"x":12.6,"y":0.73e-5},{"d":45,"x":12.8,"y":0.25e-5},{"d":45,"x":13.0,"y":0},{"d":45,"x":25,"y":0},
      {"d":90,"x":0,"y":0},{"d":90,"x":2.5,"y":0},{"d":90,"x":3.5,"y":0.1e-5},{"d":90,"x":4.5,"y":0.3e-5},{"d":90,"x":5.5,"y":0.5e-5},{"d":90,"x":6.0,"y":0.54e-5},{"d":90,"x":6.6,"y":0.5e-5},{"d":90,"x":7.5,"y":0.35e-5},{"d":90,"x":8.5,"y":0.2e-5},{"d":90,"x":9.5,"y":0.05e-5},{"d":90,"x":10.2,"y":0},{"d":90,"x":11.05,"y":0},{"d":90,"x":11.15,"y":0.45e-5},{"d":90,"x":11.32,"y":1.73e-5},{"d":90,"x":11.52,"y":3.65e-5},{"d":90,"x":11.69,"y":5.25e-5},{"d":90,"x":11.85,"y":6.21e-5},{"d":90,"x":12.0,"y":6.4e-5},{"d":90,"x":12.15,"y":6.21e-5},{"d":90,"x":12.27,"y":5.25e-5},{"d":90,"x":12.45,"y":3.65e-5},{"d":90,"x":12.7,"y":1.73e-5},{"d":90,"x":12.95,"y":0.45e-5},{"d":90,"x":13.15,"y":0},{"d":90,"x":18.2,"y":0},{"d":90,"x":18.6,"y":0.1e-5},{"d":90,"x":19.0,"y":0},{"d":90,"x":25,"y":0},
      {"d":135,"x":0,"y":0},{"d":135,"x":0.5,"y":0.15e-5},{"d":135,"x":1.1,"y":0.45e-5},{"d":135,"x":1.6,"y":0.3e-5},{"d":135,"x":2.2,"y":0.08e-5},{"d":135,"x":2.8,"y":0},{"d":135,"x":4.5,"y":0},{"d":135,"x":5.5,"y":0.05e-5},{"d":135,"x":7.0,"y":0.1e-5},{"d":135,"x":8.0,"y":0.1e-5},{"d":135,"x":9.0,"y":0.06e-5},{"d":135,"x":10.0,"y":0.01e-5},{"d":135,"x":10.5,"y":0},{"d":135,"x":11.05,"y":0},{"d":135,"x":11.3,"y":0.33e-5},{"d":135,"x":11.5,"y":0.8e-5},{"d":135,"x":11.7,"y":1.2e-5},{"d":135,"x":11.9,"y":1.33e-5},{"d":135,"x":12.1,"y":1.14e-5},{"d":135,"x":12.3,"y":0.74e-5},{"d":135,"x":12.5,"y":0.37e-5},{"d":135,"x":12.7,"y":0.11e-5},{"d":135,"x":12.9,"y":0},{"d":135,"x":18.0,"y":0},{"d":135,"x":18.3,"y":0.25e-5},{"d":135,"x":18.6,"y":0.73e-5},{"d":135,"x":18.9,"y":0.3e-5},{"d":135,"x":19.3,"y":0},{"d":135,"x":25,"y":0},
      {"d":180,"x":0,"y":0},{"d":180,"x":0.3,"y":0.05e-5},{"d":180,"x":0.6,"y":0.33e-5},{"d":180,"x":0.9,"y":0.91e-5},{"d":180,"x":1.2,"y":1.38e-5},{"d":180,"x":1.45,"y":1.52e-5},{"d":180,"x":1.7,"y":1.37e-5},{"d":180,"x":2.0,"y":1.0e-5},{"d":180,"x":2.5,"y":0.5e-5},{"d":180,"x":3.0,"y":0.3e-5},{"d":180,"x":3.5,"y":0.18e-5},{"d":180,"x":4.0,"y":0.1e-5},{"d":180,"x":5.0,"y":0.03e-5},{"d":180,"x":6.0,"y":0},{"d":180,"x":10.6,"y":0},{"d":180,"x":11.0,"y":0.05e-5},{"d":180,"x":11.4,"y":0},{"d":180,"x":18.0,"y":0},{"d":180,"x":18.6,"y":0.22e-5},{"d":180,"x":19.2,"y":0},{"d":180,"x":20.0,"y":0},{"d":180,"x":22.5,"y":0.05e-5},{"d":180,"x":25,"y":0}
    ]
  },
  "columns": 2,
  "bounds": "flush",
  "spacing": {"row": 122, "column": 392},
  "resolve": {"scale": {"x": "independent", "y": "independent", "color": "shared"}},
  "concat": [
    {
      "width": 1538, "height": 390,
      "layer": [
        {"data": {"name": "a"}, "mark": {"type": "line", "strokeWidth": 6, "interpolate": "monotone"},
         "encoding": {
           "x": {"field": "x", "type": "quantitative", "scale": {"domain": [0, 25], "nice": false},
                 "axis": {"orient": "bottom", "values": [0,2.5,5,7.5,10,12.5,15,17.5,20,22.5,25], "labelExpr": "datum.value % 5 == 0 ? datum.label : ''", "tickSize": {"condition": {"test": "datum.value % 5 == 0", "value": -32}, "value": -15}, "title": null}},
           "y": {"field": "y", "type": "quantitative", "scale": {"domain": [0, 0.001], "nice": false},
                 "axis": {"orient": "left", "values": [0,0.0001,0.0002,0.0003,0.0004,0.0005,0.0006,0.0007,0.0008,0.0009,0.001], "labelExpr": "round(datum.value*1e4) == 0 ? '0' : round(datum.value*1e4) == 10 ? '1×10⁻³' : round(datum.value*1e4) % 2 == 0 ? round(datum.value*1e4) + '×10⁻⁴' : ''", "tickSize": {"condition": {"test": "round(datum.value*1e4) % 2 == 0", "value": -36}, "value": -18}, "title": null}},
           "color": {"field": "d", "type": "nominal", "scale": {"domain": [0, 45, 90, 135, 180], "range": ["#f20c0c", "#2e6a9c", "#fcbf0f", "#3cbe70", "#6a6a9c"]},
                     "legend": {"orient": "none", "legendX": 52, "legendY": -205, "direction": "horizontal", "title": null, "labelExpr": "datum.label + '-degree'"}}
         }},
        {"data": {"name": "tags"}, "transform": [{"filter": "datum.p == 'a'"}],
         "mark": {"type": "text", "color": "#0000ff", "fontSize": 100, "align": "left", "baseline": "alphabetic"},
         "encoding": {
           "text": {"field": "label"},
           "x": {"datum": 0.8, "type": "quantitative", "scale": {"domain": [0, 25], "nice": false},
                 "axis": {"orient": "top", "values": [0,2.5,5,7.5,10,12.5,15,17.5,20,22.5,25], "labels": false, "tickSize": {"condition": {"test": "datum.value % 5 == 0", "value": -32}, "value": -15}, "title": null}},
           "y": {"datum": 0.000736, "type": "quantitative", "scale": {"domain": [0, 0.001], "nice": false},
                 "axis": {"orient": "right", "values": [0,0.0001,0.0002,0.0003,0.0004,0.0005,0.0006,0.0007,0.0008,0.0009,0.001], "labels": false, "tickSize": {"condition": {"test": "round(datum.value*1e4) % 2 == 0", "value": -36}, "value": -18}, "title": null}}
         }}
      ],
      "resolve": {"axis": {"x": "independent", "y": "independent"}}
    },
    {
      "width": 1538, "height": 390,
      "layer": [
        {"data": {"name": "b"}, "mark": {"type": "line", "strokeWidth": 6, "interpolate": "monotone"},
         "encoding": {
           "x": {"field": "x", "type": "quantitative", "scale": {"domain": [0, 25], "nice": false},
                 "axis": {"orient": "bottom", "values": [0,2.5,5,7.5,10,12.5,15,17.5,20,22.5,25], "labelExpr": "datum.value % 5 == 0 ? datum.label : ''", "tickSize": {"condition": {"test": "datum.value % 5 == 0", "value": -32}, "value": -15}, "title": null}},
           "y": {"field": "y", "type": "quantitative", "scale": {"domain": [0, 0.0005], "nice": false},
                 "axis": {"orient": "left", "values": [0,0.00005,0.0001,0.00015,0.0002,0.00025,0.0003,0.00035,0.0004,0.00045,0.0005], "labelExpr": "round(datum.value*2e4) == 0 ? '0' : round(datum.value*2e4) % 2 == 0 ? (round(datum.value*2e4)/2) + '×10⁻⁴' : ''", "tickSize": {"condition": {"test": "round(datum.value*2e4) % 2 == 0", "value": -36}, "value": -18}, "title": null}},
           "color": {"field": "d", "type": "nominal", "scale": {"domain": [0, 45, 90, 135, 180], "range": ["#f20c0c", "#2e6a9c", "#fcbf0f", "#3cbe70", "#6a6a9c"]},
                     "legend": {"orient": "none", "legendX": 52, "legendY": -205, "direction": "horizontal", "title": null, "labelExpr": "datum.label + '-degree'"}}
         }},
        {"data": {"name": "tags"}, "transform": [{"filter": "datum.p == 'b'"}],
         "mark": {"type": "text", "color": "#0000ff", "fontSize": 100, "align": "left", "baseline": "alphabetic"},
         "encoding": {
           "text": {"field": "label"},
           "x": {"datum": 0.8, "type": "quantitative", "scale": {"domain": [0, 25], "nice": false},
                 "axis": {"orient": "top", "values": [0,2.5,5,7.5,10,12.5,15,17.5,20,22.5,25], "labels": false, "tickSize": {"condition": {"test": "datum.value % 5 == 0", "value": -32}, "value": -15}, "title": null}},
           "y": {"datum": 0.000368, "type": "quantitative", "scale": {"domain": [0, 0.0005], "nice": false},
                 "axis": {"orient": "right", "values": [0,0.00005,0.0001,0.00015,0.0002,0.00025,0.0003,0.00035,0.0004,0.00045,0.0005], "labels": false, "tickSize": {"condition": {"test": "round(datum.value*2e4) % 2 == 0", "value": -36}, "value": -18}, "title": null}}
         }}
      ],
      "resolve": {"axis": {"x": "independent", "y": "independent"}}
    },
    {
      "width": 1538, "height": 390,
      "layer": [
        {"data": {"name": "c"}, "mark": {"type": "line", "strokeWidth": 6, "interpolate": "monotone"},
         "encoding": {
           "x": {"field": "x", "type": "quantitative", "scale": {"domain": [0, 25], "nice": false},
                 "axis": {"orient": "bottom", "values": [0,2.5,5,7.5,10,12.5,15,17.5,20,22.5,25], "labelExpr": "datum.value % 5 == 0 ? datum.label : ''", "tickSize": {"condition": {"test": "datum.value % 5 == 0", "value": -32}, "value": -15}, "title": null}},
           "y": {"field": "y", "type": "quantitative", "scale": {"domain": [0, 0.0005], "nice": false},
                 "axis": {"orient": "left", "values": [0,0.00005,0.0001,0.00015,0.0002,0.00025,0.0003,0.00035,0.0004,0.00045,0.0005], "labelExpr": "round(datum.value*2e4) == 0 ? '0' : round(datum.value*2e4) % 2 == 0 ? (round(datum.value*2e4)/2) + '×10⁻⁴' : ''", "tickSize": {"condition": {"test": "round(datum.value*2e4) % 2 == 0", "value": -36}, "value": -18},
                          "title": "(year)", "titleAngle": 270, "titleAlign": "left", "titleBaseline": "alphabetic", "titleX": -300, "titleY": 403}},
           "color": {"field": "d", "type": "nominal", "scale": {"domain": [0, 45, 90, 135, 180], "range": ["#f20c0c", "#2e6a9c", "#fcbf0f", "#3cbe70", "#6a6a9c"]},
                     "legend": {"orient": "none", "legendX": 52, "legendY": -205, "direction": "horizontal", "title": null, "labelExpr": "datum.label + '-degree'"}}
         }},
        {"data": {"name": "tags"}, "transform": [{"filter": "datum.p == 'c'"}],
         "mark": {"type": "text", "color": "#0000ff", "fontSize": 100, "align": "left", "baseline": "alphabetic"},
         "encoding": {
           "text": {"field": "label"},
           "x": {"datum": 0.8, "type": "quantitative", "scale": {"domain": [0, 25], "nice": false},
                 "axis": {"orient": "top", "values": [0,2.5,5,7.5,10,12.5,15,17.5,20,22.5,25], "labels": false, "tickSize": {"condition": {"test": "datum.value % 5 == 0", "value": -32}, "value": -15}, "title": null}},
           "y": {"datum": 0.000368, "type": "quantitative", "scale": {"domain": [0, 0.0005], "nice": false},
                 "axis": {"orient": "right", "values": [0,0.00005,0.0001,0.00015,0.0002,0.00025,0.0003,0.00035,0.0004,0.00045,0.0005], "labels": false, "tickSize": {"condition": {"test": "round(datum.value*2e4) % 2 == 0", "value": -36}, "value": -18}, "title": null}}
         }}
      ],
      "resolve": {"axis": {"x": "independent", "y": "independent"}}
    },
    {
      "width": 1538, "height": 390,
      "layer": [
        {"data": {"name": "d"}, "mark": {"type": "line", "strokeWidth": 6, "interpolate": "monotone"},
         "encoding": {
           "x": {"field": "x", "type": "quantitative", "scale": {"domain": [0, 25], "nice": false},
                 "axis": {"orient": "bottom", "values": [0,2.5,5,7.5,10,12.5,15,17.5,20,22.5,25], "labelExpr": "datum.value % 5 == 0 ? datum.label : ''", "tickSize": {"condition": {"test": "datum.value % 5 == 0", "value": -32}, "value": -15}, "title": null}},
           "y": {"field": "y", "type": "quantitative", "scale": {"domain": [0, 0.0005], "nice": false},
                 "axis": {"orient": "left", "values": [0,0.00005,0.0001,0.00015,0.0002,0.00025,0.0003,0.00035,0.0004,0.00045,0.0005], "labelExpr": "round(datum.value*2e4) == 0 ? '0' : round(datum.value*2e4) % 2 == 0 ? (round(datum.value*2e4)/2) + '×10⁻⁴' : ''", "tickSize": {"condition": {"test": "round(datum.value*2e4) % 2 == 0", "value": -36}, "value": -18}, "title": null}},
           "color": {"field": "d", "type": "nominal", "scale": {"domain": [0, 45, 90, 135, 180], "range": ["#f20c0c", "#2e6a9c", "#fcbf0f", "#3cbe70", "#6a6a9c"]},
                     "legend": {"orient": "none", "legendX": 52, "legendY": -205, "direction": "horizontal", "title": null, "labelExpr": "datum.label + '-degree'"}}
         }},
        {"data": {"name": "tags"}, "transform": [{"filter": "datum.p == 'd'"}],
         "mark": {"type": "text", "color": "#0000ff", "fontSize": 100, "align": "left", "baseline": "alphabetic"},
         "encoding": {
           "text": {"field": "label"},
           "x": {"datum": 0.8, "type": "quantitative", "scale": {"domain": [0, 25], "nice": false},
                 "axis": {"orient": "top", "values": [0,2.5,5,7.5,10,12.5,15,17.5,20,22.5,25], "labels": false, "tickSize": {"condition": {"test": "datum.value % 5 == 0", "value": -32}, "value": -15}, "title": null}},
           "y": {"datum": 0.000368, "type": "quantitative", "scale": {"domain": [0, 0.0005], "nice": false},
                 "axis": {"orient": "right", "values": [0,0.00005,0.0001,0.00015,0.0002,0.00025,0.0003,0.00035,0.0004,0.00045,0.0005], "labels": false, "tickSize": {"condition": {"test": "round(datum.value*2e4) % 2 == 0", "value": -36}, "value": -18}, "title": null}}
         }}
      ],
      "resolve": {"axis": {"x": "independent", "y": "independent"}}
    },
    {
      "width": 1538, "height": 390,
      "layer": [
        {"data": {"name": "e"}, "mark": {"type": "line", "strokeWidth": 6, "interpolate": "monotone"},
         "encoding": {
           "x": {"field": "x", "type": "quantitative", "scale": {"domain": [0, 25], "nice": false},
                 "axis": {"orient": "bottom", "values": [0,2.5,5,7.5,10,12.5,15,17.5,20,22.5,25], "labelExpr": "datum.value % 5 == 0 ? datum.label : ''", "tickSize": {"condition": {"test": "datum.value % 5 == 0", "value": -32}, "value": -15}, "title": null}},
           "y": {"field": "y", "type": "quantitative", "scale": {"domain": [0, 0.0005], "nice": false},
                 "axis": {"orient": "left", "values": [0,0.00005,0.0001,0.00015,0.0002,0.00025,0.0003,0.00035,0.0004,0.00045,0.0005], "labelExpr": "round(datum.value*2e4) == 0 ? '0' : round(datum.value*2e4) % 2 == 0 ? (round(datum.value*2e4)/2) + '×10⁻⁴' : ''", "tickSize": {"condition": {"test": "round(datum.value*2e4) % 2 == 0", "value": -36}, "value": -18},
                          "title": "fatigue", "titleFontStyle": "italic", "titleAngle": 270, "titleAlign": "left", "titleBaseline": "alphabetic", "titleX": -300, "titleY": 225}},
           "color": {"field": "d", "type": "nominal", "scale": {"domain": [0, 45, 90, 135, 180], "range": ["#f20c0c", "#2e6a9c", "#fcbf0f", "#3cbe70", "#6a6a9c"]},
                     "legend": {"orient": "none", "legendX": 52, "legendY": -205, "direction": "horizontal", "title": null, "labelExpr": "datum.label + '-degree'"}}
         }},
        {"data": {"name": "tags"}, "transform": [{"filter": "datum.p == 'e'"}],
         "mark": {"type": "text", "color": "#0000ff", "fontSize": 100, "align": "left", "baseline": "alphabetic"},
         "encoding": {
           "text": {"field": "label"},
           "x": {"datum": 0.8, "type": "quantitative", "scale": {"domain": [0, 25], "nice": false},
                 "axis": {"orient": "top", "values": [0,2.5,5,7.5,10,12.5,15,17.5,20,22.5,25], "labels": false, "tickSize": {"condition": {"test": "datum.value % 5 == 0", "value": -32}, "value": -15}, "title": null}},
           "y": {"datum": 0.000368, "type": "quantitative", "scale": {"domain": [0, 0.0005], "nice": false},
                 "axis": {"orient": "right", "values": [0,0.00005,0.0001,0.00015,0.0002,0.00025,0.0003,0.00035,0.0004,0.00045,0.0005], "labels": false, "tickSize": {"condition": {"test": "round(datum.value*2e4) % 2 == 0", "value": -36}, "value": -18}, "title": null}}
         }}
      ],
      "resolve": {"axis": {"x": "independent", "y": "independent"}}
    },
    {
      "width": 1538, "height": 390,
      "layer": [
        {"data": {"name": "f"}, "mark": {"type": "line", "strokeWidth": 6, "interpolate": "monotone"},
         "encoding": {
           "x": {"field": "x", "type": "quantitative", "scale": {"domain": [0, 25], "nice": false},
                 "axis": {"orient": "bottom", "values": [0,2.5,5,7.5,10,12.5,15,17.5,20,22.5,25], "labelExpr": "datum.value % 5 == 0 ? datum.label : ''", "tickSize": {"condition": {"test": "datum.value % 5 == 0", "value": -32}, "value": -15}, "title": null}},
           "y": {"field": "y", "type": "quantitative", "scale": {"domain": [0, 0.0005], "nice": false},
                 "axis": {"orient": "left", "values": [0,0.00005,0.0001,0.00015,0.0002,0.00025,0.0003,0.00035,0.0004,0.00045,0.0005], "labelExpr": "round(datum.value*2e4) == 0 ? '0' : round(datum.value*2e4) % 2 == 0 ? (round(datum.value*2e4)/2) + '×10⁻⁴' : ''", "tickSize": {"condition": {"test": "round(datum.value*2e4) % 2 == 0", "value": -36}, "value": -18}, "title": null}},
           "color": {"field": "d", "type": "nominal", "scale": {"domain": [0, 45, 90, 135, 180], "range": ["#f20c0c", "#2e6a9c", "#fcbf0f", "#3cbe70", "#6a6a9c"]},
                     "legend": {"orient": "none", "legendX": 52, "legendY": -205, "direction": "horizontal", "title": null, "labelExpr": "datum.label + '-degree'"}}
         }},
        {"data": {"name": "tags"}, "transform": [{"filter": "datum.p == 'f'"}],
         "mark": {"type": "text", "color": "#0000ff", "fontSize": 100, "align": "left", "baseline": "alphabetic"},
         "encoding": {
           "text": {"field": "label"},
           "x": {"datum": 0.8, "type": "quantitative", "scale": {"domain": [0, 25], "nice": false},
                 "axis": {"orient": "top", "values": [0,2.5,5,7.5,10,12.5,15,17.5,20,22.5,25], "labels": false, "tickSize": {"condition": {"test": "datum.value % 5 == 0", "value": -32}, "value": -15}, "title": null}},
           "y": {"datum": 0.000368, "type": "quantitative", "scale": {"domain": [0, 0.0005], "nice": false},
                 "axis": {"orient": "right", "values": [0,0.00005,0.0001,0.00015,0.0002,0.00025,0.0003,0.00035,0.0004,0.00045,0.0005], "labels": false, "tickSize": {"condition": {"test": "round(datum.value*2e4) % 2 == 0", "value": -36}, "value": -18}, "title": null}}
         }}
      ],
      "resolve": {"axis": {"x": "independent", "y": "independent"}}
    },
    {
      "width": 1538, "height": 390,
      "layer": [
        {"data": {"name": "g"}, "mark": {"type": "line", "strokeWidth": 6, "interpolate": "monotone"},
         "encoding": {
           "x": {"field": "x", "type": "quantitative", "scale": {"domain": [0, 25], "nice": false},
                 "axis": {"orient": "bottom", "values": [0,2.5,5,7.5,10,12.5,15,17.5,20,22.5,25], "labelExpr": "datum.value % 5 == 0 ? datum.label : ''", "tickSize": {"condition": {"test": "datum.value % 5 == 0", "value": -32}, "value": -15},
                          "title": "(m)", "titleFontSize": 95, "titleAlign": "center", "titleBaseline": "alphabetic", "titleX": 852, "titleY": 243}},
           "y": {"field": "y", "type": "quantitative", "scale": {"domain": [0, 0.0001], "nice": false},
                 "axis": {"orient": "left", "values": [0,0.00001,0.00002,0.00003,0.00004,0.00005,0.00006,0.00007,0.00008,0.00009,0.0001], "labelExpr": "round(datum.value*1e5) == 0 ? '0' : round(datum.value*1e5) == 10 ? '1×10⁻⁴' : round(datum.value*1e5) % 2 == 0 ? round(datum.value*1e5) + '×10⁻⁵' : ''", "tickSize": {"condition": {"test": "round(datum.value*1e5) % 2 == 0", "value": -36}, "value": -18},
                          "title": "Arc", "titleFontStyle": "italic", "titleFontSize": 58, "titleAngle": 0, "titleAlign": "left", "titleBaseline": "alphabetic", "titleX": 675, "titleY": 657}},
           "color": {"field": "d", "type": "nominal", "scale": {"domain": [0, 45, 90, 135, 180], "range": ["#f20c0c", "#2e6a9c", "#fcbf0f", "#3cbe70", "#6a6a9c"]},
                     "legend": {"orient": "none", "legendX": 52, "legendY": -205, "direction": "horizontal", "title": null, "labelExpr": "datum.label + '-degree'"}}
         }},
        {"data": {"name": "tags"}, "transform": [{"filter": "datum.p == 'g'"}],
         "mark": {"type": "text", "color": "#0000ff", "fontSize": 100, "align": "left", "baseline": "alphabetic"},
         "encoding": {
           "text": {"field": "label"},
           "x": {"datum": 0.8, "type": "quantitative", "scale": {"domain": [0, 25], "nice": false},
                 "axis": {"orient": "top", "values": [0,2.5,5,7.5,10,12.5,15,17.5,20,22.5,25], "labels": false, "tickSize": {"condition": {"test": "datum.value % 5 == 0", "value": -32}, "value": -15}, "title": null}},
           "y": {"datum": 0.0000736, "type": "quantitative", "scale": {"domain": [0, 0.0001], "nice": false},
                 "axis": {"orient": "right", "values": [0,0.00001,0.00002,0.00003,0.00004,0.00005,0.00006,0.00007,0.00008,0.00009,0.0001], "labels": false, "tickSize": {"condition": {"test": "round(datum.value*1e5) % 2 == 0", "value": -36}, "value": -18},
                          "title": "L", "titleFontStyle": "italic", "titleFontSize": 95, "titleAngle": 0, "titleAlign": "left", "titleBaseline": "alphabetic", "titleX": -918, "titleY": 633}}
         }}
      ],
      "resolve": {"axis": {"x": "independent", "y": "independent"}}
    },
    {
      "width": 1538, "height": 390,
      "layer": [
        {"data": {"name": "h"}, "mark": {"type": "line", "strokeWidth": 6, "interpolate": "monotone"},
         "encoding": {
           "x": {"field": "x", "type": "quantitative", "scale": {"domain": [0, 25], "nice": false},
                 "axis": {"orient": "bottom", "values": [0,2.5,5,7.5,10,12.5,15,17.5,20,22.5,25], "labelExpr": "datum.value % 5 == 0 ? datum.label : ''", "tickSize": {"condition": {"test": "datum.value % 5 == 0", "value": -32}, "value": -15},
                          "title": "(m)", "titleFontSize": 95, "titleAlign": "center", "titleBaseline": "alphabetic", "titleX": 852, "titleY": 243}},
           "y": {"field": "y", "type": "quantitative", "scale": {"domain": [0, 0.0001], "nice": false},
                 "axis": {"orient": "left", "values": [0,0.00001,0.00002,0.00003,0.00004,0.00005,0.00006,0.00007,0.00008,0.00009,0.0001], "labelExpr": "round(datum.value*1e5) == 0 ? '0' : round(datum.value*1e5) == 10 ? '1×10⁻⁴' : round(datum.value*1e5) % 2 == 0 ? round(datum.value*1e5) + '×10⁻⁵' : ''", "tickSize": {"condition": {"test": "round(datum.value*1e5) % 2 == 0", "value": -36}, "value": -18},
                          "title": "Arc", "titleFontStyle": "italic", "titleFontSize": 58, "titleAngle": 0, "titleAlign": "left", "titleBaseline": "alphabetic", "titleX": 675, "titleY": 657}},
           "color": {"field": "d", "type": "nominal", "scale": {"domain": [0, 45, 90, 135, 180], "range": ["#f20c0c", "#2e6a9c", "#fcbf0f", "#3cbe70", "#6a6a9c"]},
                     "legend": {"orient": "none", "legendX": 52, "legendY": -205, "direction": "horizontal", "title": null, "labelExpr": "datum.label + '-degree'"}}
         }},
        {"data": {"name": "tags"}, "transform": [{"filter": "datum.p == 'h'"}],
         "mark": {"type": "text", "color": "#0000ff", "fontSize": 100, "align": "left", "baseline": "alphabetic"},
         "encoding": {
           "text": {"field": "label"},
           "x": {"datum": 0.8, "type": "quantitative", "scale": {"domain": [0, 25], "nice": false},
                 "axis": {"orient": "top", "values": [0,2.5,5,7.5,10,12.5,15,17.5,20,22.5,25], "labels": false, "tickSize": {"condition": {"test": "datum.value % 5 == 0", "value": -32}, "value": -15}, "title": null}},
           "y": {"datum": 0.0000736, "type": "quantitative", "scale": {"domain": [0, 0.0001], "nice": false},
                 "axis": {"orient": "right", "values": [0,0.00001,0.00002,0.00003,0.00004,0.00005,0.00006,0.00007,0.00008,0.00009,0.0001], "labels": false, "tickSize": {"condition": {"test": "round(datum.value*1e5) % 2 == 0", "value": -36}, "value": -18},
                          "title": "L", "titleFontStyle": "italic", "titleFontSize": 95, "titleAngle": 0, "titleAlign": "left", "titleBaseline": "alphabetic", "titleX": -918, "titleY": 633}}
         }}
      ],
      "resolve": {"axis": {"x": "independent", "y": "independent"}}
    }
  ]
}
